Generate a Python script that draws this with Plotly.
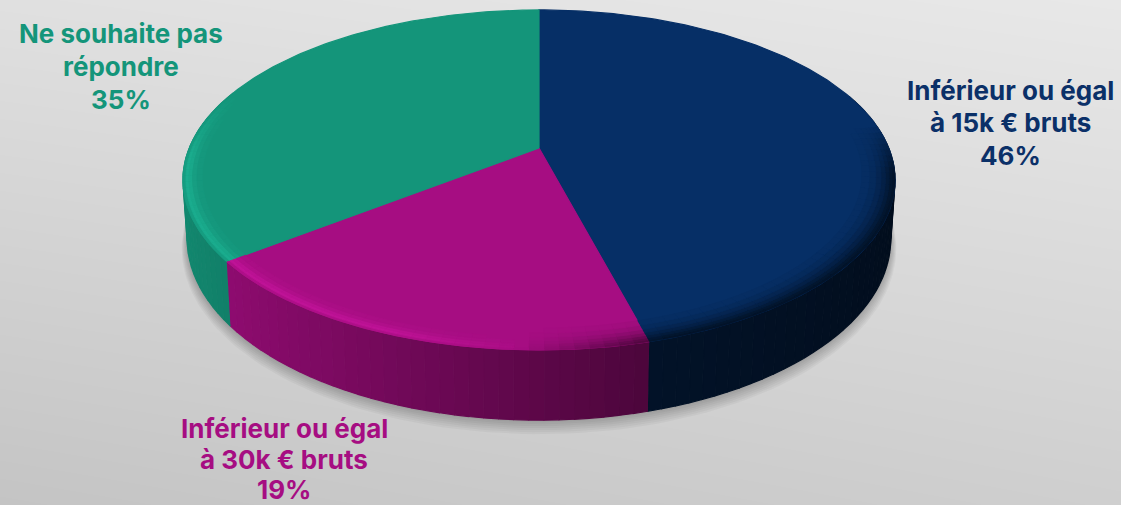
import numpy as np
import plotly.graph_objects as go

label_lines = [["Inférieur ou égal", "à 15k € bruts"],
               ["Inférieur ou égal", "à 30k € bruts"],
               ["Ne souhaite pas", "répondre"]]
percent_labels = [46, 19, 35]          # as printed on the chart
values = [45.85, 18.65, 35.5]          # slice shares
top_colors = [(6, 47, 102), (166, 13, 130), (20, 149, 122)]
label_colors = ["#0b3068", "#a60d82", "#14957a"]
label_x = [1010, 284, 121]
label_y = [[90, 122, 155], [428, 459, 489], [33, 66, 99]]

W, H = 1121, 505
CX, CY = 539, 148
R, S, K = 349.7, 164.0, 0.188
DEPTH = 57.0
total = sum(values)


def project(theta, r=1.0, drop=0.0):
    u = r * np.sin(theta)
    v = -r * np.cos(theta)
    d = 1 - K * v
    shrink = 1 - 0.012 * (drop / DEPTH)
    return CX + shrink * R * u / d, CY + S * v / d + drop / d


def shade(rgb, m):
    if m <= 1:
        c = [x * m for x in rgb]
    else:
        c = [x * m + 30 * (m - 1) for x in rgb]
    return "rgb(%d,%d,%d)" % tuple(min(255, max(0, round(x))) for x in c)


def poly(xs, ys, color, lw=1.2):
    return go.Scatter(x=list(xs), y=list(ys), mode="lines", fill="toself",
                      fillcolor=color, line=dict(color=color, width=lw),
                      hoverinfo="skip", showlegend=False)


traces = [go.Heatmap(x=[0, W], y=[0, H], z=[[0.78, 1.0], [0.0, 0.3]], zsmooth="best",
                     colorscale=[[0, "#c4c4c4"], [1, "#e8e8e8"]], showscale=False,
                     hoverinfo="skip")]

# soft shadow under the disc
ring = np.linspace(0, 2 * np.pi, 240)
for off in np.arange(14, 0, -2):
    sx, sy = project(ring, 1.0 + off * 0.0012, DEPTH + off * 0.55)
    traces.append(poly(sx, sy, "rgba(0,0,0,0.035)", 0))

fracs = np.cumsum([0] + values) / total * 2 * np.pi
side_u = [-1, -0.8, 0.25, 1]
side_m = [0.92, 0.86, 0.46, 0.33]

# side wall, one narrow strip at a time
for i in range(len(values)):
    a0, a1 = fracs[i], fracs[i + 1]
    n = max(4, int((a1 - a0) / np.radians(2)))
    e = np.linspace(a0, a1, n + 1)
    for t0, t1 in zip(e[:-1], e[1:]):
        mid = (t0 + t1) / 2
        if -np.cos(mid) < -0.35:
            continue
        m = np.interp(np.sin(mid), side_u, side_m)
        if i == 0:
            m *= 0.85
        xa, ya = project(np.array([t0, t1]))
        xb, yb = project(np.array([t1, t0]), 1.0, DEPTH)
        traces.append(poly(np.r_[xa, xb], np.r_[ya, yb], shade(top_colors[i], m)))

# top faces
for i in range(len(values)):
    e = np.linspace(fracs[i], fracs[i + 1], 160)
    x, y = project(e)
    traces.append(poly(np.r_[CX, x, CX], np.r_[CY, y, CY], shade(top_colors[i], 1)))

# rounded rim of the top face
bands = [1.0, 0.992, 0.984, 0.974, 0.962, 0.948, 0.93, 0.91]
dark_w = [1.0, 0.9, 0.72, 0.52, 0.34, 0.18, 0.07]
light_w = [0.35, 1.0, 0.8, 0.4, 0.15, 0.0, 0.0]
for i in range(len(values)):
    a0, a1 = fracs[i], fracs[i + 1]
    n = max(4, int((a1 - a0) / np.radians(2)))
    e = np.linspace(a0, a1, n + 1)
    for t0, t1 in zip(e[:-1], e[1:]):
        mid = (t0 + t1) / 2
        u, v = np.sin(mid), -np.cos(mid)
        dark = np.clip((u + 0.05) / 0.35, 0, 1) * np.clip((v + 0.15) / 0.3, 0, 1)
        light = np.clip(-u / 0.35, 0, 1) * np.clip((v + 0.35) / 0.4, 0, 1)
        for j in range(len(dark_w)):
            m = (1 + 0.13 * light * light_w[j]) * (1 - 0.6 * dark * dark_w[j])
            if abs(m - 1) < 0.008:
                continue
            xa, ya = project(np.array([t0, t1]), bands[j])
            xb, yb = project(np.array([t1, t0]), bands[j + 1])
            traces.append(poly(np.r_[xa, xb], np.r_[ya, yb], shade(top_colors[i], m), 0.8))

fig = go.Figure(traces)
for lines, val, col, lx, ys in zip(label_lines, percent_labels, label_colors, label_x, label_y):
    for txt, ly in zip(lines + [f"{val}%"], ys):
        fig.add_annotation(x=lx, y=ly, xref="x", yref="y", showarrow=False,
                           text=f"<b>{txt}</b>", align="center",
                           font=dict(family="Inter", size=26, color=col))
fig.update_layout(width=W, height=H, margin=dict(l=0, r=0, t=0, b=0),
                  paper_bgcolor="#dddddd", plot_bgcolor="#dddddd", showlegend=False,
                  xaxis=dict(range=[0, W], visible=False, fixedrange=True),
                  yaxis=dict(range=[H, 0], visible=False, fixedrange=True))
fig.write_html("out.html", config=dict(displayModeBar=False),
               post_script="document.body.style.margin='0';document.documentElement.style.overflow='hidden';")
